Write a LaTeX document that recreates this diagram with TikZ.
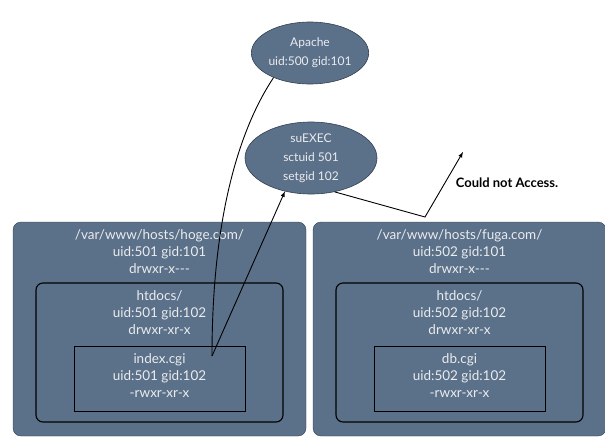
\documentclass[tikz,border=0pt]{standalone}
\usepackage{fontspec}
\setmainfont{Lato}
\usetikzlibrary{shapes}
\usetikzlibrary{arrows}
\usetikzlibrary{positioning}
\definecolor{slate}{RGB}{91,112,137}
\definecolor{slateline}{RGB}{52,64,80}
\definecolor{paper}{RGB}{234,236,238}

% one virtual host: outer dir, htdocs, cgi file
\newcommand{\hostdir}[4]{
  \node[dirbox, fill=slate, draw=slateline, rounded corners=8pt,
        minimum width=293pt, minimum height=214pt] (#1) at (159.5,329) {};
  \node[dirbox, rounded corners=7pt, line width=1.1pt,
        minimum width=247pt, minimum height=139pt] (#1docs) at (159.5,352.5) {};
  \node[dirbox, line width=0.9pt,
        minimum width=171pt, minimum height=65pt] (#1cgi) at (159.5,378.5) {};
  \node[dirtext] (#1txt) at (159.5,252) {/var/www/hosts/#2/\\uid:#3 gid:101\\drwxr-x-{}-{}-};
  \node[dirtext] (#1docstxt) at (159.5,313) {htdocs/\\uid:#3 gid:102\\drwxr-xr-x};
  \node[dirtext] (#1cgitxt) at (159.5,376) {#4\\uid:#3 gid:102\\-rwxr-xr-x};
}

\begin{document}
\begin{tikzpicture}[x=1pt, y=-1pt,
    dirbox/.style={draw=black, inner sep=0pt},
    dirtext/.style={text=paper, align=center, font=\fontsize{13.5}{17}\selectfont},
    bubble/.style={ellipse, fill=slate, draw=slateline, line width=0.6pt, inner sep=0pt,
                   text=paper, align=center, font=\fontsize{12}{19}\selectfont},
    wire/.style={draw=black, line width=0.9pt},
    note/.style={font=\fontsize{13}{14}\selectfont\bfseries}]
  \useasboundingbox (0,0) rectangle (605,437);

  \hostdir{hoge}{hoge.com}{501}{index.cgi}
  \begin{scope}[xshift=300pt]
    \hostdir{fuga}{fuga.com}{502}{db.cgi}
  \end{scope}

  \node[bubble, minimum width=112pt, minimum height=62pt] (apache) at (310,53) {Apache\\uid:500 gid:101};
  \node[bubble, minimum width=132pt, minimum height=72pt] (suexec) at (311,158) {suEXEC\\sctuid 501\\setgid 102};

  \coordinate (run) at (212,356);
  \coordinate (bend) at (425,217);
  \coordinate (deny) at (463,152);

  \draw[wire] (apache.214) .. controls (242,125) and (212,210) .. (run);
  \draw[wire, -latex] (run) -- (suexec.232);
  \draw[wire, -latex] (suexec.305) -- (bend) -- (deny);
  \node[note] (denied) at (507,183) {Could not Access.};
\end{tikzpicture}
\end{document}
